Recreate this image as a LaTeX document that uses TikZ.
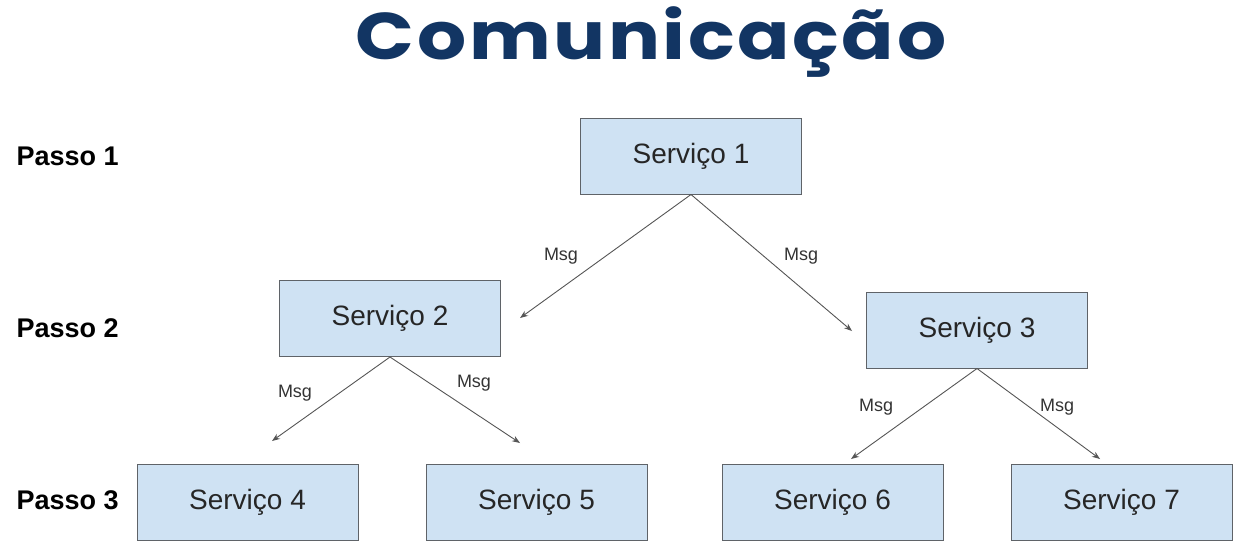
\documentclass[tikz,border=0pt]{standalone}
\usepackage{fontspec}
\setmainfont{Liberation Sans}
\newfontfamily\titlefont[LetterSpace=4,FakeStretch=1.17]{Poppins}
\usetikzlibrary{arrows.meta}
\definecolor{navy}{HTML}{123563}
\definecolor{boxfill}{HTML}{CFE2F3}
\definecolor{boxline}{HTML}{5F6368}
\definecolor{arrowc}{HTML}{555555}
\tikzset{
  svc/.style={draw=boxline, line width=1pt, fill=boxfill, minimum width=221pt, minimum height=76pt, inner sep=0pt, font=\fontsize{28}{32}\selectfont, text=black!85},
  passo/.style={anchor=west, font=\fontsize{27}{31}\selectfont\bfseries, text=black},
  msg/.style={font=\fontsize{18}{21}\selectfont, text=black!80},
  link/.style={draw=arrowc, line width=0.9pt, -{Stealth[length=8pt,width=6pt]}}
}
\begin{document}
\begin{tikzpicture}[x=1pt,y=-1pt]
\useasboundingbox (0,0) rectangle (1244,550);
\node[font=\titlefont\bfseries\fontsize{66}{70}\selectfont, text=navy] (title) at (651,42) {Comunicação};
\node[passo] (p1) at (13,156) {Passo 1};
\node[passo] (p2) at (13,328) {Passo 2};
\node[passo] (p3) at (13,500) {Passo 3};
\node[svc] (s1) at (691,156) {Serviço 1};
\node[svc] (s2) at (390,318.5) {Serviço 2};
\node[svc] (s3) at (977,330) {Serviço 3};
\node[svc] (s4) at (247.5,502) {Serviço 4};
\node[svc] (s5) at (536.5,502) {Serviço 5};
\node[svc] (s6) at (832.5,502) {Serviço 6};
\node[svc] (s7) at (1121.5,502) {Serviço 7};
\coordinate (a1) at (520,318);
\coordinate (a2) at (852,331);
\coordinate (a3) at (272,441);
\coordinate (a4) at (520,443);
\coordinate (a5) at (851,459);
\coordinate (a6) at (1100,459);
\draw[link] (s1.south) -- (a1);
\draw[link] (s1.south) -- (a2);
\draw[link] (s2.south) -- (a3);
\draw[link] (s2.south) -- (a4);
\draw[link] (s3.south) -- (a5);
\draw[link] (s3.south) -- (a6);
\node[msg] (m1) at (561,256) {Msg};
\node[msg] (m2) at (801,256) {Msg};
\node[msg] (m3) at (295,393) {Msg};
\node[msg] (m4) at (474,383) {Msg};
\node[msg] (m5) at (876,407) {Msg};
\node[msg] (m6) at (1057,407) {Msg};
\end{tikzpicture}
\end{document}
